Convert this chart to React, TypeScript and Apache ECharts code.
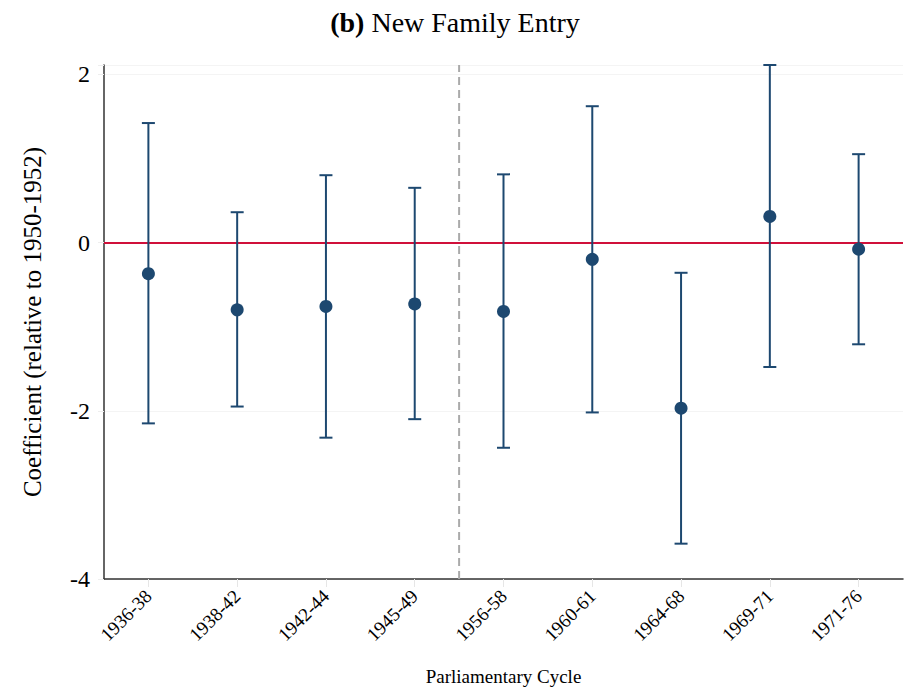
import React, { useEffect, useRef } from "react";
import * as echarts from "echarts";

const categories = ["1936-38", "1938-42", "1942-44", "1945-49", "1956-58", "1960-61", "1964-68", "1969-71", "1971-76"];
const coefficients = [-0.37, -0.80, -0.76, -0.73, -0.82, -0.20, -1.97, 0.31, -0.08];
const upperCI = [1.42, 0.36, 0.80, 0.65, 0.81, 1.62, -0.36, 2.11, 1.05];
const lowerCI = [-2.15, -1.95, -2.32, -2.10, -2.44, -2.02, -3.58, -1.48, -1.21];
const yTicks = [-4, -2, 0, 2];
const breakAfterIndex = 3;

const SERIF = '"Liberation Serif", "Times New Roman", serif';
const BLUE = "#1d4870";

export default function App() {
  const ref = useRef<HTMLDivElement>(null);
  useEffect(() => {
    if (!ref.current) return;
    const chart = echarts.init(ref.current, undefined, { renderer: "svg" });
    const errData = categories.map((_, i) => [i, lowerCI[i], upperCI[i]]);
    const yMin = yTicks[0];
    const yMax = Math.max(...upperCI);
    chart.setOption({
      animation: false,
      backgroundColor: "#ffffff",
      title: {
        text: "{b|(b)} New Family Entry",
        left: 450,
        textAlign: "center",
        top: 3,
        textStyle: {
          fontFamily: SERIF,
          fontSize: 28,
          fontWeight: "normal",
          color: "#000",
          rich: { b: { fontFamily: SERIF, fontSize: 28, fontWeight: "bold", color: "#000" } },
        },
      },
      grid: { left: 104, right: 10, top: 65, bottom: 113, containLabel: false, outerBoundsMode: "none" },
      xAxis: {
        type: "category",
        data: categories,
        boundaryGap: true,
        name: "Parliamentary Cycle",
        nameLocation: "middle",
        nameGap: 88,
        nameTextStyle: { fontFamily: SERIF, fontSize: 19, color: "#000" },
        axisLine: { onZero: false, lineStyle: { color: "#333", width: 1.5 } },
        axisTick: { show: true, alignWithLabel: true, length: 8, lineStyle: { color: "#e6e6e6" } },
        axisLabel: { rotate: 45, fontFamily: SERIF, fontSize: 19, color: "#000", margin: 14, interval: 0 },
        splitLine: { show: false },
      },
      yAxis: {
        type: "value",
        min: yMin,
        max: yMax,
        interval: 2,
        name: "Coefficient (relative to 1950-1952)",
        nameLocation: "middle",
        nameGap: 59,
        nameTextStyle: { fontFamily: SERIF, fontSize: 25, color: "#000" },
        axisLine: { show: true, lineStyle: { color: "#333", width: 1.5 } },
        axisTick: { show: true, length: 6, lineStyle: { color: "#eeeeee" } },
        axisLabel: {
          fontFamily: SERIF,
          fontSize: 24,
          color: "#000",
          margin: 14,
          formatter: (v: number) => (yTicks.includes(v) ? String(v) : ""),
        },
        splitLine: { show: true, lineStyle: { color: "#f4f4f4", width: 1 } },
      },
      series: [
        {
          type: "custom",
          data: [[breakAfterIndex]],
          z: 1,
          silent: true,
          renderItem: (params: any, api: any) => {
            const i = api.value(0);
            const a = api.coord([i, yMin]);
            const b = api.coord([i + 1, yMin]);
            const top = api.coord([i, yMax]);
            const x = (a[0] + b[0]) / 2;
            return {
              type: "line",
              shape: { x1: x, y1: a[1], x2: x, y2: top[1] },
              style: { stroke: "#aaaaaa", lineWidth: 2, lineDash: [8, 5] },
            };
          },
        },
        {
          type: "custom",
          data: errData,
          z: 3,
          renderItem: (params: any, api: any) => {
            const i = api.value(0);
            const lo = api.coord([i, api.value(1)]);
            const hi = api.coord([i, api.value(2)]);
            const half = 6.5;
            const st = { stroke: BLUE, lineWidth: 2 };
            return {
              type: "group",
              children: [
                { type: "line", shape: { x1: lo[0], y1: lo[1], x2: hi[0], y2: hi[1] }, style: st },
                { type: "line", shape: { x1: hi[0] - half, y1: hi[1], x2: hi[0] + half, y2: hi[1] }, style: st },
                { type: "line", shape: { x1: lo[0] - half, y1: lo[1], x2: lo[0] + half, y2: lo[1] }, style: st },
              ],
            };
          },
        },
        {
          type: "scatter",
          data: coefficients,
          symbol: "circle",
          symbolSize: 13,
          z: 4,
          itemStyle: { color: BLUE, opacity: 1 },
          markLine: {
            silent: true,
            symbol: ["none", "none"],
            label: { show: false },
            lineStyle: { color: "#d0103a", width: 2, type: "solid" },
            data: [{ yAxis: 0 }],
            z: 2,
          },
        },
      ],
    });
    return () => chart.dispose();
  }, []);
  return <div ref={ref} style={{ position: "absolute", left: 0, top: 0, width: 913, height: 692 }} />;
}
